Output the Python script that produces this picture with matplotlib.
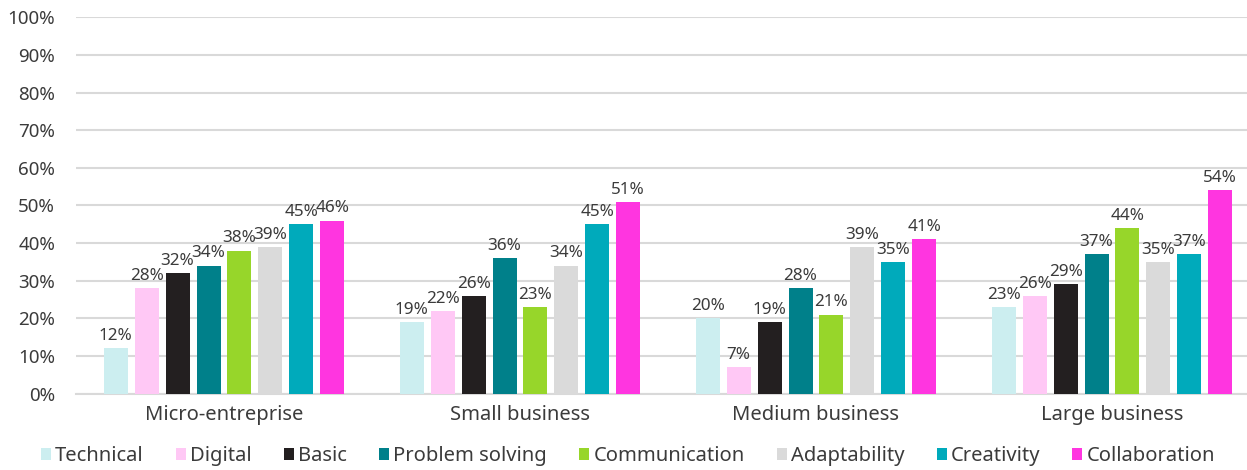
import numpy as np
import matplotlib.pyplot as plt
from matplotlib.ticker import PercentFormatter

plt.rcParams['font.family'] = ['Noto Sans', 'DejaVu Sans']

sizes = ["Micro-entreprise", "Small business", "Medium business", "Large business"]
skills = ["Technical", "Digital", "Basic", "Problem solving",
          "Communication", "Adaptability", "Creativity", "Collaboration"]
colors = ["#CCEEF0", "#FFC8F5", "#231F20", "#00808A",
          "#97D62A", "#DADADA", "#00AABB", "#FF35E0"]

technical = [12, 19, 20, 23]
digital = [28, 22, 7, 26]
basic = [32, 26, 19, 29]
problem_solving = [34, 36, 28, 37]
communication = [38, 23, 21, 44]
adaptability = [39, 34, 39, 35]
creativity = [45, 45, 35, 37]
collaboration = [46, 51, 41, 54]

series = [technical, digital, basic, problem_solving,
          communication, adaptability, creativity, collaboration]

txt = "#3B3B3B"
fig = plt.figure(figsize=(12.47, 4.70), dpi=100)
ax = fig.add_axes([76 / 1247, 76.4 / 470, 1184 / 1247, 376.3 / 470])

x = np.arange(len(sizes))
step = 0.1045
width = 0.081
for i, (name, vals, c) in enumerate(zip(skills, series, colors)):
    pos = x + (i - 3.5) * step
    bars = ax.bar(pos, vals, width, color=c, label=name, zorder=3)
    ax.bar_label(bars, labels=[f"{v}%" for v in vals], padding=3,
                 fontsize=12.3, color=txt)

ax.set_ylim(0, 100)
ax.set_xlim(-0.5, 3.5)
ax.set_yticks(range(0, 101, 10))
ax.yaxis.set_major_formatter(PercentFormatter(decimals=0))
ax.grid(axis="y", color="#D9D9D9", linewidth=1.5, zorder=0)
for s in ["top", "right", "left"]:
    ax.spines[s].set_visible(False)
ax.spines["bottom"].set_color("#D9D9D9")
ax.spines["bottom"].set_linewidth(1.5)
ax.set_xticks(x)
ax.set_xticklabels(sizes)
ax.tick_params(axis="y", length=0, pad=15, labelsize=13.5, labelcolor=txt)
ax.tick_params(axis="x", length=0, pad=8, labelsize=14.5, labelcolor=txt)

handles, labels = ax.get_legend_handles_labels()
fig.legend(handles, labels, loc="center", bbox_to_anchor=(628 / 1247, 1 - 456 / 470),
           ncol=8, frameon=False, fontsize=14.5, labelcolor=txt,
           handlelength=0.5, handleheight=0.5, handletextpad=0.2,
           columnspacing=1.6, borderpad=0)

fig.savefig("out.png", dpi=100)
